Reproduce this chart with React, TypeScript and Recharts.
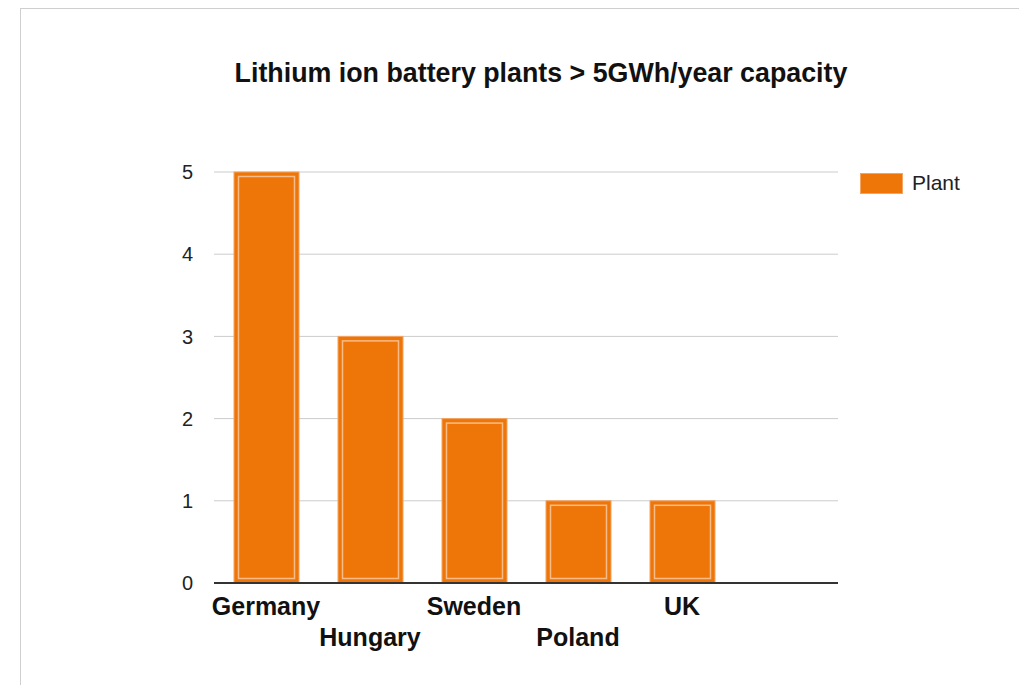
import React from "react";
import { BarChart, Bar, XAxis, YAxis, CartesianGrid, Legend } from "recharts";

const countries = ["Germany", "Hungary", "Sweden", "Poland", "UK", ""];
const plants = [5, 3, 2, 1, 1, null];
const yTicks = [0, 1, 2, 3, 4, 5];

const ORANGE = "#EE7609";
const LIGHT = "#F8BC88";
const FONT = "'Liberation Sans', Arial, sans-serif";

const chartData = countries.map((name, i) => ({ name, plant: plants[i] }));

const BarShape = (props: any) => {
  const { x, y, width, height } = props;
  if (!height || height <= 0) return null;
  return (
    <g>
      <rect x={x} y={y} width={width} height={height} fill={ORANGE} stroke="#F4A461" strokeWidth={1} />
      <rect
        x={x + 4.5}
        y={y + 4.5}
        width={width - 9}
        height={height - 9}
        fill="none"
        stroke={LIGHT}
        strokeWidth={1.5}
      />
    </g>
  );
};

const CountryTick = (props: any) => {
  const { x, y, payload, index } = props;
  const dy = index % 2 === 0 ? 32 : 63;
  return (
    <text x={x} y={y + dy} textAnchor="middle" fontFamily={FONT} fontWeight="bold" fontSize={25} fill="#111">
      {payload.value}
    </text>
  );
};

const LegendContent = () => (
  <div style={{ display: "flex", alignItems: "center", fontFamily: FONT }}>
    <div style={{ width: 43, height: 21, background: ORANGE, border: "1px solid #F4A461", boxSizing: "border-box" }} />
    <span style={{ marginLeft: 9, fontSize: 21, color: "#222" }}>Plant</span>
  </div>
);

export default function App() {
  return (
    <div
      style={{
        position: "absolute",
        left: 20,
        top: 8,
        width: 999,
        height: 677,
        borderTop: "1px solid #cfcfcf",
        borderLeft: "1px solid #cfcfcf",
        boxSizing: "border-box",
        background: "#fff",
      }}
    >
      <div
        style={{
          position: "absolute",
          left: 520,
          top: 48,
          transform: "translateX(-50%)",
          whiteSpace: "nowrap",
          fontFamily: FONT,
          fontWeight: "bold",
          fontSize: 26.8,
          lineHeight: "32px",
          color: "#111",
        }}
      >
        Lithium ion battery plants &gt; 5GWh/year capacity
      </div>
      <BarChart
        width={998}
        height={676}
        data={chartData}
        margin={{ top: 163, right: 61, bottom: 42, left: 133 }}
        barSize={65}
      >
        <CartesianGrid horizontal vertical={false} stroke="#cccccc" />
        <XAxis
          dataKey="name"
          height={60}
          tickLine={false}
          tickSize={0}
          tickMargin={0}
          axisLine={{ stroke: "#333", strokeWidth: 2 }}
          tick={<CountryTick />}
          interval={0}
        />
        <YAxis
          width={60}
          domain={[0, 5]}
          ticks={yTicks}
          axisLine={false}
          tickLine={false}
          tickSize={0}
          tickMargin={21}
          tick={{ fontFamily: FONT, fontSize: 20, fill: "#222" }}
        />
        <Legend
          layout="vertical"
          align="right"
          verticalAlign="top"
          content={<LegendContent />}
          wrapperStyle={{ left: 839, top: 162, width: 120 }}
        />
        <Bar dataKey="plant" name="Plant" fill={ORANGE} shape={<BarShape />} isAnimationActive={false} />
      </BarChart>
    </div>
  );
}
